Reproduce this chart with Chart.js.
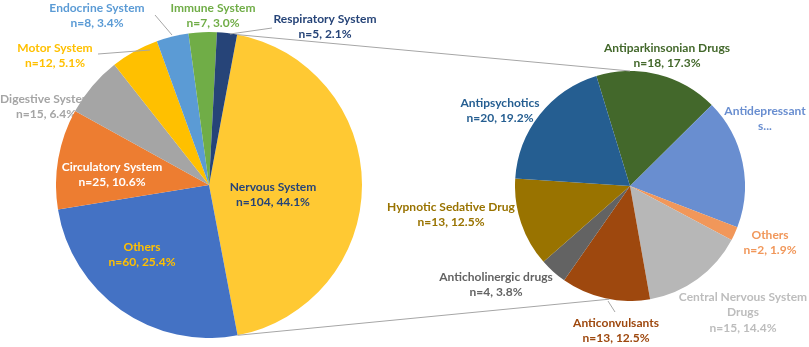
<!DOCTYPE html>
<html>
<head>
<meta charset="utf-8">
<script src="https://cdn.jsdelivr.net/npm/chart.js@4.4.1/dist/chart.umd.min.js"></script>
<style>
 body{margin:0;background:#fff;}
 #wrap{position:relative;width:809px;height:347px;overflow:hidden;}
 canvas{position:absolute;}
</style>
</head>
<body>
<div id="wrap">
 <canvas id="under" width="809" height="347" style="left:0;top:0"></canvas>
 <canvas id="pieLeft" style="left:56px;top:32px"></canvas>
 <canvas id="pieRight" style="left:515px;top:71px"></canvas>
 <canvas id="over" width="809" height="347" style="left:0;top:0"></canvas>
</div>
<script>
// left pie: systems
var sysNames = ["Nervous System","Others","Circulatory System","Digestive System","Motor System","Endocrine System","Immune System","Respiratory System"];
var sysCounts = [104,60,25,15,12,8,7,5];
var sysPct = ["44.1%","25.4%","10.6%","6.4%","5.1%","3.4%","3.0%","2.1%"];
var sysColors = ["#FFC933","#4472C4","#ED7D31","#A5A5A5","#FFC000","#5B9BD5","#70AD47","#264478"];

// right pie: nervous system drugs
var drugNames = ["Antiparkinsonian Drugs","Antidepressants","Others","Central Nervous System Drugs","Anticonvulsants","Anticholinergic drugs","Hypnotic Sedative Drug","Antipsychotics"];
var drugCounts = [18,19,2,15,13,4,13,20];
var drugPct = ["17.3%","18.3%","1.9%","14.4%","12.5%","3.8%","12.5%","19.2%"];
var drugColors = ["#43682B","#698ED0","#F1975A","#B7B7B7","#9E480E","#636363","#997300","#255E91"];

// label layout (text lines, center x, first line y, colour, drawn under pie?)
var sysLabels = [
  {lines:[sysNames[0],"n="+sysCounts[0]+", "+sysPct[0]], x:273, y:187, c:"#264478"},
  {lines:[sysNames[1],"n="+sysCounts[1]+", "+sysPct[1]], x:142, y:247, c:"#FFC000"},
  {lines:[sysNames[2],"n="+sysCounts[2]+", "+sysPct[2]], x:112, y:167, c:"#FFFFFF"},
  {lines:[sysNames[3],"n="+sysCounts[3]+", "+sysPct[3]], x:46, y:99, c:"#A5A5A5", under:true},
  {lines:[sysNames[4],"n="+sysCounts[4]+", "+sysPct[4]], x:55, y:48, c:"#FFC000"},
  {lines:[sysNames[5],"n="+sysCounts[5]+", "+sysPct[5]], x:97, y:8, c:"#5B9BD5"},
  {lines:[sysNames[6],"n="+sysCounts[6]+", "+sysPct[6]], x:213, y:8, c:"#70AD47"},
  {lines:[sysNames[7],"n="+sysCounts[7]+", "+sysPct[7]], x:325, y:19, c:"#264478"}
];
var drugLabels = [
  {lines:[drugNames[0],"n="+drugCounts[0]+", "+drugPct[0]], x:667, y:48, c:"#43682B"},
  {lines:["Antidepressant","s..."], x:765, y:111, c:"#698ED0"},
  {lines:[drugNames[2],"n="+drugCounts[2]+", "+drugPct[2]], x:770, y:235, c:"#F1975A"},
  {lines:["Central Nervous System","Drugs","n="+drugCounts[3]+", "+drugPct[3]], x:743, y:297, c:"#BDBDBD"},
  {lines:[drugNames[4],"n="+drugCounts[4]+", "+drugPct[4]], x:616, y:323, c:"#9E480E"},
  {lines:[drugNames[5],"n="+drugCounts[5]+", "+drugPct[5]], x:496, y:277, c:"#636363"},
  {lines:[drugNames[6],"n="+drugCounts[6]+", "+drugPct[6]], x:451, y:207, c:"#997300"},
  {lines:[drugNames[7],"n="+drugCounts[7]+", "+drugPct[7]], x:500, y:103, c:"#255E91"}
];
var leaders = [[155,15,172,35],[98,54,150,50],[230,34,272,28],[608,301,615,312]];

function makePie(id, size, names, counts, colors, rot){
  var cv = document.getElementById(id);
  cv.width = size; cv.height = size;
  return new Chart(cv.getContext("2d"), {
    type: "pie",
    data: {
      labels: names,
      datasets: [{ data: counts, backgroundColor: colors, borderWidth: 0 }]
    },
    options: {
      responsive: false,
      animation: false,
      rotation: rot,
      layout: { padding: 0 },
      plugins: { legend: { display: false }, tooltip: { enabled: false } }
    }
  });
}

var left = makePie("pieLeft", 306, sysNames, sysCounts, sysColors, 10.6);
var right = makePie("pieRight", 230, drugNames, drugCounts, drugColors, -17);

function drawLabels(ctx, list, under){
  ctx.font = "bold 12px Lato";
  ctx.textAlign = "center";
  ctx.textBaseline = "middle";
  list.forEach(function(l){
    if (!!l.under !== under) return;
    ctx.fillStyle = l.c;
    for (var i = 0; i < l.lines.length; i++) {
      ctx.fillText(l.lines[i], l.x, l.y + i * 15.5);
    }
  });
}

var uctx = document.getElementById("under").getContext("2d");
drawLabels(uctx, sysLabels, true);

var octx = document.getElementById("over").getContext("2d");
// connector lines from nervous system slice to the right pie
var arcL = left.getDatasetMeta(0).data[0];
var arcR = right.getDatasetMeta(0).data[0];
var lx = 56 + arcL.x, ly = 32 + arcL.y, lr = arcL.outerRadius;
var rx = 515 + arcR.x, ry = 71 + arcR.y, rr = arcR.outerRadius;
octx.strokeStyle = "#A6A6A6";
octx.lineWidth = 1;
octx.beginPath();
octx.moveTo(lx + lr * Math.cos(arcL.startAngle), ly + lr * Math.sin(arcL.startAngle));
octx.lineTo(rx, ry - rr);
octx.moveTo(lx + lr * Math.cos(arcL.endAngle), ly + lr * Math.sin(arcL.endAngle));
octx.lineTo(rx + rr * Math.cos(1.75), ry + rr * Math.sin(1.75));
octx.stroke();

octx.strokeStyle = "#A6A6A6";
leaders.forEach(function(p){
  octx.beginPath();
  octx.moveTo(p[0], p[1]);
  octx.lineTo(p[2], p[3]);
  octx.stroke();
});

drawLabels(octx, sysLabels, false);
drawLabels(octx, drugLabels, false);
</script>
</body>
</html>
